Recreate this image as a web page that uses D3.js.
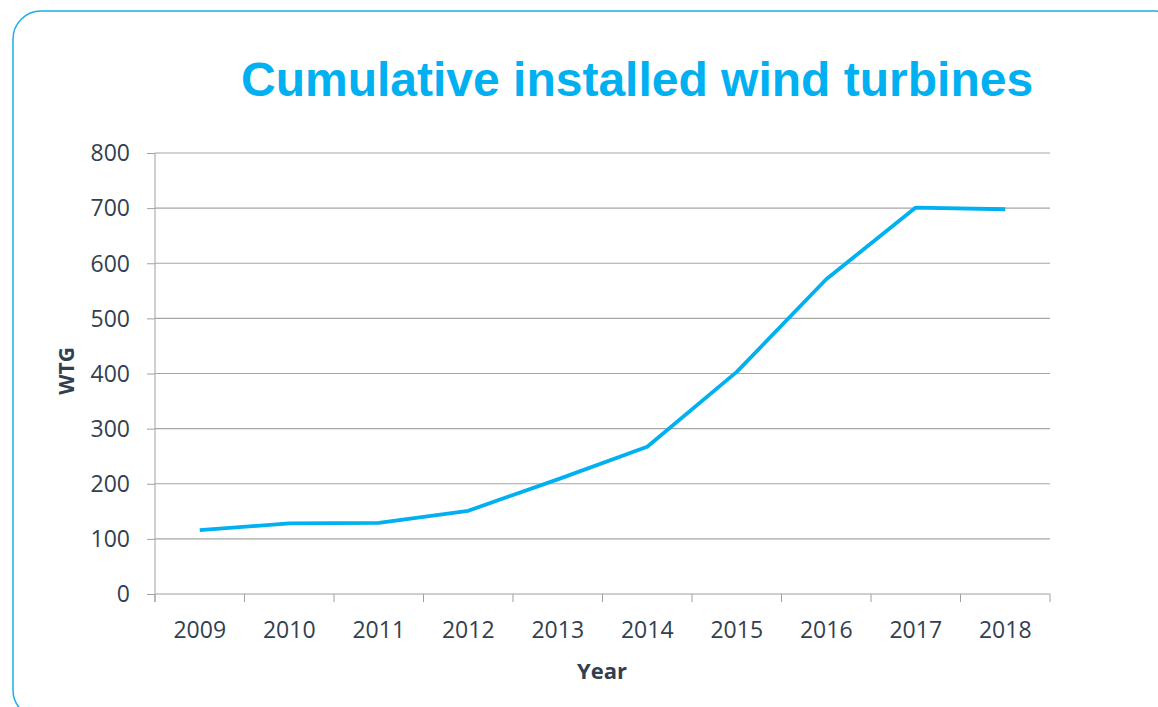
<html>
  <head>
    <style>
      body { margin: 0; background: #fff; }
      .tick text { font-family: "Open Sans", sans-serif; font-size: 23px; fill: #333f50; }
    </style>
  </head>
  <body>
    <script src="https://d3js.org/d3.v7.min.js"></script>
    <script>
    // chart data
    var years = ["2009", "2010", "2011", "2012", "2013", "2014", "2015", "2016", "2017", "2018"];
    var turbines = [116, 128, 129, 151, 208, 267, 403, 571, 701, 698];
    var yTicks = [0, 100, 200, 300, 400, 500, 600, 700, 800];

    var width = 1158, height = 707;
    var plotLeft = 155, plotRight = 1050, plotTop = 153, plotBottom = 594;

    var svg = d3.select("body")
        .append("svg")
        .attr("width", width)
        .attr("height", height);

    // rounded frame
    svg.append("rect")
        .attr("x", 13).attr("y", 11)
        .attr("width", 1170).attr("height", 707)
        .attr("rx", 28).attr("ry", 28)
        .attr("fill", "none")
        .attr("stroke", "#1aaee8")
        .attr("stroke-width", 1.5);

    svg.append("text")
        .attr("x", 241).attr("y", 96)
        .attr("font-family", "Liberation Sans, Arial, sans-serif")
        .attr("font-weight", "bold")
        .attr("font-size", 48)
        .attr("fill", "#00b0f0")
        .text("Cumulative installed wind turbines");

    var x = d3.scaleBand().domain(years).range([plotLeft, plotRight]).padding(0);
    var y = d3.scaleLinear().domain([0, 800]).range([plotBottom, plotTop]);

    // gridlines
    svg.append("g")
        .selectAll("line")
        .data(yTicks.filter(function(d) { return d > 0; }))
        .join("line")
        .attr("x1", plotLeft).attr("x2", plotRight)
        .attr("y1", function(d) { return y(d); })
        .attr("y2", function(d) { return y(d); })
        .attr("stroke", "#a6a6a6")
        .attr("stroke-width", 1.2);

    // y axis
    var yAxis = svg.append("g")
        .attr("transform", "translate(" + plotLeft + ",0)")
        .call(d3.axisLeft(y).tickValues(yTicks).tickSize(8).tickPadding(17));
    yAxis.select(".domain").attr("stroke", "#a0a0a0").attr("d", "M0," + plotTop + "V" + (plotBottom + 8));
    yAxis.selectAll(".tick line").attr("stroke", "#a0a0a0");
    yAxis.selectAll(".tick text").attr("dy", "0.34em");

    // x axis, ticks between categories
    var xAxis = svg.append("g")
        .attr("transform", "translate(0," + plotBottom + ")")
        .call(d3.axisBottom(x).tickSize(0).tickPadding(36));
    xAxis.select(".domain").attr("stroke", "#a0a0a0").attr("d", "M" + plotLeft + ",0H" + plotRight);
    xAxis.selectAll(".tick text").attr("dy", "0.34em");
    svg.append("g")
        .selectAll("line")
        .data(years.concat(["end"]))
        .join("line")
        .attr("x1", function(d, i) { return plotLeft + i * x.bandwidth(); })
        .attr("x2", function(d, i) { return plotLeft + i * x.bandwidth(); })
        .attr("y1", plotBottom).attr("y2", plotBottom + 8)
        .attr("stroke", "#a0a0a0");

    // the line
    var line = d3.line()
        .x(function(d, i) { return x(years[i]) + x.bandwidth() / 2; })
        .y(function(d) { return y(d); });

    svg.append("path")
        .datum(turbines)
        .attr("d", line)
        .attr("fill", "none")
        .attr("stroke", "#00b0f0")
        .attr("stroke-width", 3.8)
        .attr("stroke-linejoin", "round");

    // axis titles
    svg.append("text")
        .attr("x", 602).attr("y", 679)
        .attr("text-anchor", "middle")
        .attr("font-family", "Open Sans, sans-serif")
        .attr("font-weight", "bold")
        .attr("font-size", 22)
        .attr("fill", "#333f50")
        .text("Year");

    svg.append("text")
        .attr("transform", "translate(74,371) rotate(-90)")
        .attr("text-anchor", "middle")
        .attr("font-family", "Open Sans, sans-serif")
        .attr("font-weight", "bold")
        .attr("font-size", 21)
        .attr("fill", "#333f50")
        .text("WTG");
    </script>
  </body>
</html>
